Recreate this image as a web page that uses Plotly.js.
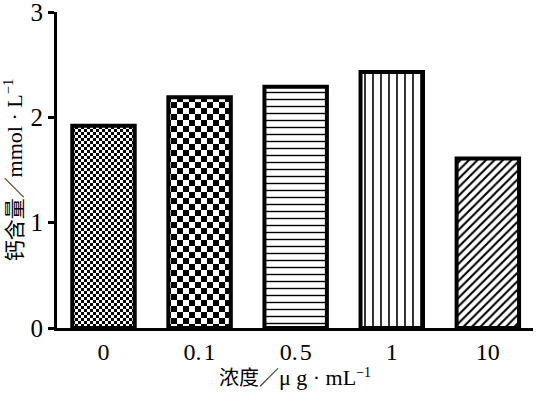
<!DOCTYPE html>
<html>
<head>
<meta charset="utf-8">
<script src="https://cdn.plot.ly/plotly-3.0.1.min.js"></script>
<style>html,body{margin:0;padding:0;background:#fff;}#chart{width:549px;height:398px;}</style>
</head>
<body>
<div id="chart"></div>
<script>
// Data
var categories = ["0", "0.1", "0.5", "1", "10"];
var tickLabels = ["0", "0.\u200a1", "0.\u200a5", "1", "10"];
var calciumValues = [1.92, 2.19, 2.29, 2.43, 1.61];
var patternShapes = ["", "", "-", "|", "/"];
var patternSizes = [6, 6, 7, 8, 6];
var patternSolidity = [0.3, 0.3, 0.2, 0.2, 0.35];
var yTicks = [0, 1, 2, 3];

var serif = "'Liberation Serif', 'Noto Sans CJK SC', serif";

var trace = {
  type: "bar",
  x: categories,
  y: calciumValues,
  width: 0.65,
  marker: {
    color: "#ffffff",
    line: {color: "#000000", width: 4},
    pattern: {
      shape: patternShapes,
      size: patternSizes,
      solidity: patternSolidity,
      fgcolor: "#000000",
      bgcolor: "#ffffff",
      fillmode: "replace"
    }
  },
  hoverinfo: "none"
};

var layout = {
  width: 549,
  height: 398,
  margin: {l: 57, r: 16, t: 12, b: 70},
  paper_bgcolor: "#ffffff",
  plot_bgcolor: "#ffffff",
  showlegend: false,
  xaxis: {
    type: "category",
    range: [-0.484, 4.47],
    tickvals: categories,
    ticktext: tickLabels,
    showline: true,
    linecolor: "#000000",
    linewidth: 3,
    ticks: "",
    showgrid: false,
    zeroline: false,
    ticklabeloverflow: "allow",
    tickfont: {family: serif, size: 24, color: "#000000"},
    title: {text: "浓度／<span style=\"font-size:22px\">μ g · mL</span><sup>−1</sup>", font: {family: serif, size: 20, color: "#000000"}, standoff: 4}
  },
  yaxis: {
    range: [0, 3],
    tickvals: yTicks,
    showline: true,
    linecolor: "#000000",
    linewidth: 3,
    ticks: "outside",
    ticklen: 6,
    tickwidth: 3,
    tickcolor: "#000000",
    showgrid: false,
    zeroline: false,
    ticklabeloverflow: "allow",
    tickfont: {family: serif, size: 25, color: "#000000"},
    title: {text: "钙含量／<span style=\"font-size:22px\">mmol · L</span><sup>−1</sup>", font: {family: serif, size: 21, color: "#000000"}, standoff: 4}
  }
};

Plotly.newPlot("chart", [trace], layout, {staticPlot: true}).then(function (gd) {
  var svg = gd.querySelector(".main-svg");
  var defs = svg.querySelector("defs");
  var ns = "http://www.w3.org/2000/svg";
  function makeChecker(id, sq) {
    var p = document.createElementNS(ns, "pattern");
    p.setAttribute("id", id);
    p.setAttribute("patternUnits", "userSpaceOnUse");
    p.setAttribute("width", 2 * sq);
    p.setAttribute("height", 2 * sq);
    var bg = document.createElementNS(ns, "rect");
    bg.setAttribute("width", 2 * sq); bg.setAttribute("height", 2 * sq); bg.setAttribute("fill", "#fff");
    p.appendChild(bg);
    [[0, 0], [sq, sq]].forEach(function (o) {
      var r = document.createElementNS(ns, "rect");
      r.setAttribute("x", o[0]); r.setAttribute("y", o[1]);
      r.setAttribute("width", sq); r.setAttribute("height", sq);
      r.setAttribute("fill", "#000");
      p.appendChild(r);
    });
    defs.appendChild(p);
  }
  makeChecker("chkFine", 3);
  makeChecker("chkBig", 6);
  var paths = gd.querySelectorAll(".trace.bars .point path");
  if (paths[0]) paths[0].style.fill = "url(#chkFine)";
  if (paths[1]) paths[1].style.fill = "url(#chkBig)";
});
</script>
</body>
</html>
